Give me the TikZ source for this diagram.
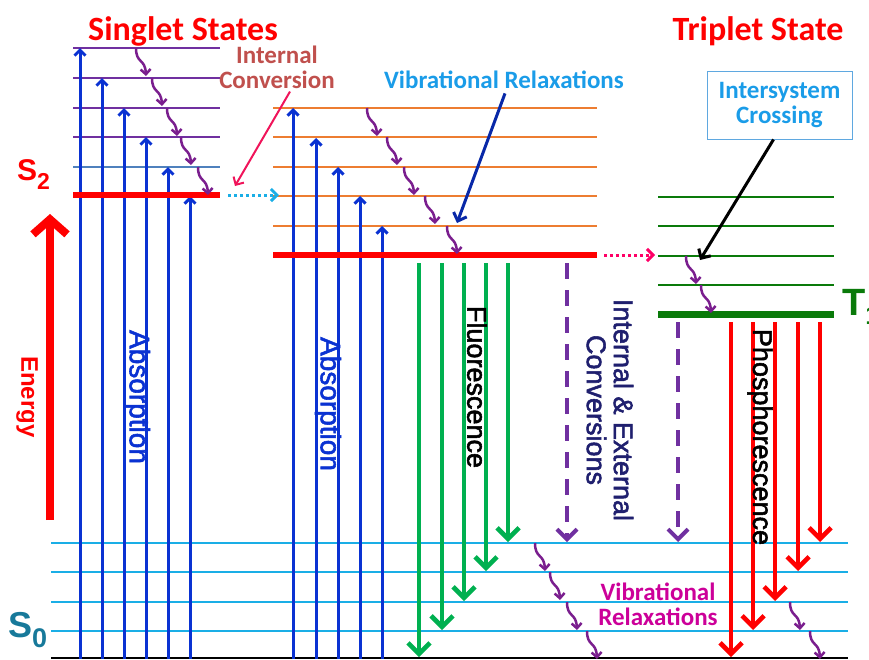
\documentclass[tikz,border=0pt]{standalone}
\usepackage{fontspec}
\setmainfont{Liberation Sans}
\newfontfamily\calibri{Carlito}
\newfontfamily\arialheavy[FakeBold=2]{Liberation Sans}
\usetikzlibrary{arrows.meta}
\definecolor{absblue}{HTML}{0A32D2}
\definecolor{levpurple}{HTML}{7030A0}
\definecolor{levsteel}{HTML}{4F81BD}
\definecolor{levorange}{HTML}{ED7D31}
\definecolor{levcyan}{HTML}{1AAEE6}
\definecolor{tripgreen}{HTML}{0A7A0A}
\definecolor{fluogreen}{HTML}{00B050}
\definecolor{relaxpurple}{HTML}{7A1E8E}
\definecolor{icbrown}{HTML}{C0504D}
\definecolor{icpink}{HTML}{F0145A}
\definecolor{iscpink}{HTML}{FF0066}
\definecolor{vrblue}{HTML}{1A9CE8}
\definecolor{iscframe}{HTML}{5FA8E0}
\definecolor{convnavy}{HTML}{1F1F6E}
\definecolor{vrmagenta}{HTML}{CC0099}
\definecolor{szeroteal}{HTML}{17799A}
\newcommand{\fsz}[1]{\fontsize{#1}{#1}\selectfont}
\tikzset{
  barb/.style={-{Straight Barb[length=#1, width=2*#1]}},
  barb/.default=6pt,
  relaxarrow/.style={draw=relaxpurple, line width=2.5pt, barb=5pt},
  relax/.pic={\draw[relaxarrow] (0,0) .. controls (0,16) and (9,10) .. (10,28);}
}
\begin{document}
\begin{tikzpicture}[x=1pt, y=-1pt, line cap=butt]
\useasboundingbox (0,0) rectangle (869,659);
% Thin vibrational levels
\begin{scope}[line width=1.5pt, draw=levpurple]
  \draw (73,48) -- (220,48);
  \draw (73,78) -- (220,78);
  \draw (73,108) -- (220,108);
  \draw (73,137) -- (220,137);
\end{scope}
\draw[line width=1.5pt, levsteel] (73,167) -- (220,167);
\begin{scope}[line width=1.5pt, draw=levorange]
  \draw (273,108) -- (597,108);
  \draw (273,137) -- (597,137);
  \draw (273,167) -- (597,167);
  \draw (273,196) -- (597,196);
  \draw (273,226) -- (597,226);
\end{scope}
\begin{scope}[line width=1.5pt, draw=tripgreen]
  \draw (658,197) -- (834,197);
  \draw (658,226) -- (834,226);
  \draw (658,256) -- (834,256);
  \draw (658,285) -- (834,285);
\end{scope}
\begin{scope}[line width=1.8pt, draw=levcyan]
  \draw (51,543) -- (848,543);
  \draw (51,572) -- (848,572);
  \draw (51,602) -- (848,602);
  \draw (51,631) -- (848,631);
\end{scope}
\draw[line width=2pt] (51,657.5) -- (848,657.5);
% Absorption
\begin{scope}[draw=absblue, line width=3pt, barb=5.5pt]
  \draw (80,659) -- (80,48);
  \draw (102,659) -- (102,78);
  \draw (124,659) -- (124,108);
  \draw (146,659) -- (146,137);
  \draw (168,659) -- (168,167);
  \draw (190,659) -- (190,196);
  \draw (293,659) -- (293,108);
  \draw (316,659) -- (316,138);
  \draw (338,659) -- (338,167);
  \draw (360,659) -- (360,196);
  \draw (382,659) -- (382,226);
\end{scope}
% Fluorescence
\begin{scope}[draw=fluogreen, line width=4.6pt, barb=11pt]
  \draw (419,263) -- (419,657);
  \draw (442,263) -- (442,630);
  \draw (464,263) -- (464,601);
  \draw (486,263) -- (486,571);
  \draw (508,263) -- (508,542);
\end{scope}
% Phosphorescence
\begin{scope}[draw=red, line width=4.6pt, barb=11pt]
  \draw (731,322) -- (731,657);
  \draw (753,322) -- (753,630);
  \draw (775,322) -- (775,601);
  \draw (798,322) -- (798,571);
  \draw (820,322) -- (820,542);
\end{scope}
% Non-radiative conversions
\begin{scope}[draw=levpurple, line width=4pt, barb=10pt, dash pattern=on 16pt off 11pt]
  \draw (567,263) -- (567,542);
  \draw (678,322) -- (678,542);
\end{scope}
% Electronic states
\draw[line width=6.5pt, red] (73,195) -- (220,195);
\draw[line width=6.5pt, red] (273,255) -- (597,255);
\draw[line width=7pt, tripgreen] (658,314) -- (834,314);
% Crossings between states
\draw[draw=levcyan, line width=3pt, barb=6pt, dash pattern=on 3pt off 3pt] (228,195) -- (279,195);
\draw[draw=iscpink, line width=3pt, barb=6pt, dash pattern=on 3pt off 3pt] (604,255) -- (655,255);
% Vibrational relaxations
\pic at (136,48) {relax};
\pic at (152,78) {relax};
\pic at (167,108) {relax};
\pic at (181,137) {relax};
\pic at (198,167) {relax};
\pic at (367,108) {relax};
\pic at (387,137) {relax};
\pic at (404,167) {relax};
\pic at (425,196) {relax};
\pic at (447,226) {relax};
\pic at (686,256) {relax};
\pic at (701,285) {relax};
\pic at (535,543) {relax};
\pic at (550,572) {relax};
\pic at (567,602) {relax};
\pic at (587,631) {relax};
\pic at (790,602) {relax};
\pic at (810,631) {relax};
% Energy axis
\draw[red, line width=8pt, -{Straight Barb[length=15pt, width=34pt]}] (50,520) -- (50,214);
% Labels
\node[red, font=\calibri\bfseries\fsz{34}, inner sep=0pt] (singlet) at (183,31) {Singlet States};
\node[red, font=\calibri\bfseries\fsz{34}, inner sep=0pt] (triplet) at (758,31) {Triplet State};
\node[red, font=\bfseries\fsz{30}, anchor=base west, inner sep=0pt] (stwo) at (17,180) {S\raisebox{-0.3em}{\fsz{23}2}};
\node[szeroteal, font=\bfseries\fsz{36}, anchor=base west, inner sep=0pt] (szero) at (8,637) {S\raisebox{-0.28em}{\fsz{27}0}};
\node[tripgreen, font=\bfseries\fsz{38}, anchor=base west, inner sep=0pt] (tone) at (842,315) {T\raisebox{-0.25em}{\fsz{26}1}};
\node[red, font=\bfseries\fsz{24}, rotate=-90] (energy) at (27,397) {Energy};
\node[absblue, font=\arialheavy\fsz{28}, rotate=-90] (absleft) at (137,397) {Absorption};
\node[absblue, font=\arialheavy\fsz{28}, rotate=-90] (absmid) at (328,404) {Absorption};
\node[font=\arialheavy\fsz{27}, rotate=-90] (fluo) at (477,387) {Fluorescence};
\node[font=\arialheavy\fsz{27}, rotate=-90] (phos) at (760,437) {Phosphorescence};
\node[convnavy, font=\arialheavy\fsz{27}, rotate=-90, align=center] (conv) at (610,410)
  {\fontsize{27}{35}\selectfont Internal \& External\\Conversions};
\node[icbrown, font=\calibri\bfseries\fsz{25}, align=center, inner sep=0pt] (ic) at (277,67)
  {\fontsize{25}{30}\selectfont Internal\\Conversion};
\node[vrblue, font=\calibri\bfseries\fsz{25}] (vrtop) at (504,80) {Vibrational Relaxations};
\node[vrblue, draw=iscframe, line width=1pt, font=\calibri\bfseries\fsz{25}, align=center,
  minimum width=145pt, minimum height=68pt] (isc) at (779.5,105)
  {\fontsize{25}{29}\selectfont Intersystem\\Crossing};
\node[vrmagenta, font=\calibri\bfseries\fsz{25}, align=center] (vrbot) at (658,604)
  {\fontsize{25}{29}\selectfont Vibrational\\Relaxations};
% Pointers
\coordinate (icend) at (235,186);
\coordinate (vrend) at (457,223);
\coordinate (iscend) at (700,260);
\draw[icpink, line width=2pt, barb=6pt] ([xshift=13pt,yshift=-3pt]ic.south) -- (icend);
\draw[absblue!80!black, line width=3pt, barb=7pt] ([xshift=1pt,yshift=-1pt]vrtop.south) -- (vrend);
\draw[black, line width=3pt, barb=7pt] ([xshift=-6pt]isc.south) -- (iscend);
\end{tikzpicture}
\end{document}
